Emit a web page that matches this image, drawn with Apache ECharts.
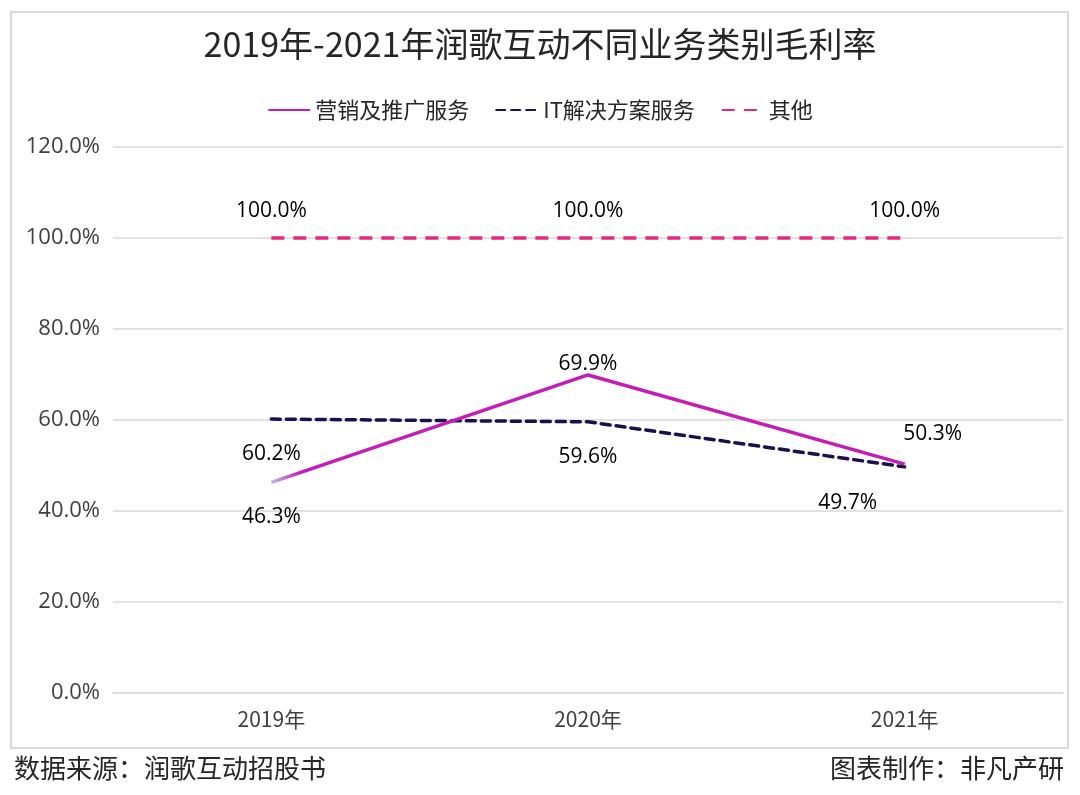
<!DOCTYPE html>
<html>
<head>
<meta charset="utf-8">
<script src="https://cdn.jsdelivr.net/npm/echarts@6/dist/echarts.min.js"></script>
<style>
html,body{margin:0;padding:0;background:#fff;}
#main{width:1080px;height:795px;}
</style>
</head>
<body>
<div id="main"></div>
<script>
var years = ['2019年', '2020年', '2021年'];
var marketing = [46.3, 69.9, 50.3];   // 营销及推广服务
var itService = [60.2, 59.6, 49.7];   // IT解决方案服务
var others = [100.0, 100.0, 100.0];   // 其他
var yTicks = { min: 0, max: 120, interval: 20 };

var FONT = '"Noto Sans CJK SC", "Noto Sans", sans-serif';
var NUMFONT = '"Open Sans", "Noto Sans", sans-serif';

// 每个点的标签位置
var mkLabelPos = [
    { position: 'bottom', distance: 24, offset: [0, 0] },
    { position: 'top', distance: 0, offset: [0, 0] },
    { position: 'top', distance: 4, offset: [28, -16] }
];
var itLabelPos = [
    { position: 'bottom', distance: 24, offset: [0, 0] },
    { position: 'bottom', distance: 25, offset: [0, 0] },
    { position: 'bottom', distance: 26, offset: [-57, 0] }
];

function withLabels(values, pos) {
    var out = [];
    for (var i = 0; i < values.length; i++) {
        out.push({ value: values[i], label: pos[i] });
    }
    return out;
}

var labelStyle = {
    show: true,
    color: '#000',
    fontSize: 21,
    fontFamily: NUMFONT,
    formatter: function (p) { return p.value.toFixed(1) + '%'; }
};

var myChart = echarts.init(document.getElementById('main'));
var option = {
    backgroundColor: '#fff',
    title: {
        text: '2019年-2021年润歌互动不同业务类别毛利率',
        left: 'center',
        top: 22,
        textStyle: { fontSize: 34, fontWeight: 'normal', color: '#262626', fontFamily: FONT }
    },
    legend: {
        top: 94,
        left: 'center',
        itemWidth: 42,
        itemHeight: 4,
        itemGap: 26,
        itemStyle: { opacity: 0 },
        textStyle: { fontSize: 22, color: '#262626', fontFamily: FONT },
        data: ['营销及推广服务', 'IT解决方案服务', '其他']
    },
    grid: { left: 113, right: 17, top: 147, bottom: 102 },
    xAxis: {
        type: 'category',
        data: years,
        boundaryGap: true,
        axisLine: { lineStyle: { color: '#d9d9d9', width: 1.5 } },
        axisTick: { show: false },
        axisLabel: { margin: 16, fontSize: 21, color: '#404040', fontFamily: FONT }
    },
    yAxis: {
        type: 'value',
        min: yTicks.min,
        max: yTicks.max,
        interval: yTicks.interval,
        axisLine: { show: false },
        axisTick: { show: false },
        splitLine: { lineStyle: { color: '#d9d9d9', width: 1.5 } },
        axisLabel: {
            margin: 13, fontSize: 22, color: '#404040', fontFamily: NUMFONT,
            formatter: function (v) { return v.toFixed(1) + '%'; }
        }
    },
    series: [
        {
            name: '营销及推广服务',
            type: 'line',
            symbol: 'circle',
            symbolSize: 0,
            data: withLabels(marketing, mkLabelPos),
            itemStyle: { color: '#C41CB4' },
            lineStyle: {
                width: 3.5,
                color: new echarts.graphic.LinearGradient(0, 0, 1, 0, [
                    { offset: 0, color: '#b8cbe8' },
                    { offset: 0.05, color: '#C41CB4' },
                    { offset: 1, color: '#C41CB4' }
                ])
            },
            label: labelStyle,
            z: 3
        },
        {
            name: 'IT解决方案服务',
            type: 'line',
            symbol: 'circle',
            symbolSize: 0,
            data: withLabels(itService, itLabelPos),
            itemStyle: { color: '#1b0f4d' },
            lineStyle: { width: 3.5, color: '#1b0f4d', type: [9, 6], cap: 'round' },
            label: labelStyle,
            z: 2
        },
        {
            name: '其他',
            type: 'line',
            symbol: 'circle',
            symbolSize: 0,
            data: others,
            itemStyle: { color: '#E6287A' },
            lineStyle: { width: 3.5, color: '#E6287A', type: [13, 9] },
            label: Object.assign({}, labelStyle, { position: 'top', distance: 16 }),
            z: 1
        }
    ],
    graphic: [
        {
            type: 'rect',
            shape: { x: 11, y: 12, width: 1057, height: 736 },
            style: { fill: 'none', stroke: '#d9d9d9', lineWidth: 2 },
            silent: true
        },
        {
            type: 'text',
            left: 14,
            top: 755,
            style: { text: '数据来源：润歌互动招股书', fill: '#262626', font: '26px ' + FONT }
        },
        {
            type: 'text',
            right: 16,
            top: 755,
            style: { text: '图表制作：非凡产研', fill: '#262626', font: '26px ' + FONT }
        }
    ]
};
myChart.setOption(option);
</script>
</body>
</html>
